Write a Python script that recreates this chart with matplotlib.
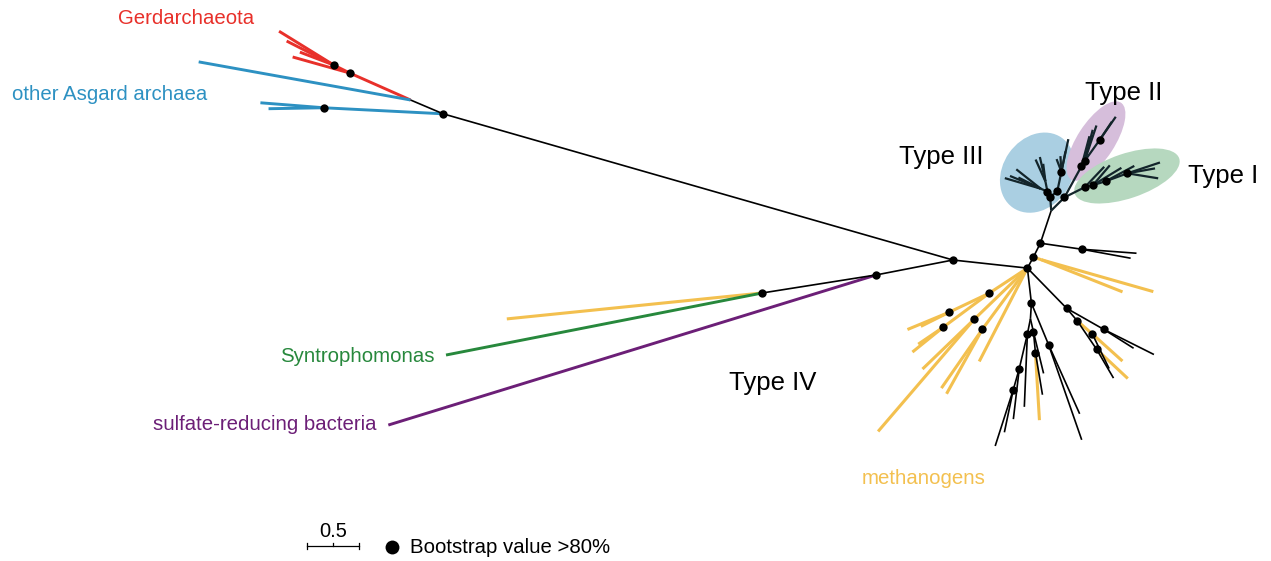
import math
import matplotlib
matplotlib.use("Agg")
import matplotlib.pyplot as plt
from matplotlib.patches import Ellipse

plt.rcParams["font.family"] = ["Liberation Sans", "DejaVu Sans"]

# Branches of the unrooted tree: (parent, child, length, direction in degrees, lineage)
backbone = [
    ("C", "A", 5.10, 164.0, "other"),
    ("A", "G", 0.34, 157.0, "other"),
    ("C", "D", 0.75, 191.0, "other"),
    ("D", "E", 1.11, 189.0, "other"),
    ("C", "M", 0.72, -6.2, "other"),
]
gerdarchaeota = [
    ("G", "R1", 0.64, 156.1, "gerd"),
    ("R1", "r1", 0.57, 164.3, "gerd"),
    ("R1", "R2", 0.17, 153.4, "gerd"),
    ("R2", "r2", 0.62, 148.3, "gerd"),
    ("R2", "r3", 0.51, 153.0, "gerd"),
    ("R2", "r4", 0.35, 159.1, "gerd"),
]
other_asgard = [
    ("G", "s1", 2.07, 169.8, "asgard"),
    ("A", "B1", 1.15, 177.1, "asgard"),
    ("B1", "s2", 0.61, 175.5, "asgard"),
    ("B1", "s3", 0.53, 181.0, "asgard"),
]
bacteria = [
    ("E", "m0", 2.47, 185.8, "methanogen"),
    ("E", "syn", 3.10, 191.1, "syntroph"),
    ("D", "srb", 4.91, 197.1, "srb"),
]
upper_right = [
    ("M", "N1", 0.12, 61.4, "other"),
    ("N1", "N2", 0.15, 63.4, "other"),
    ("N2", "K", 0.40, -8.3, "other"),
    ("K", "k1", 0.53, -4.2, "other"),
    ("K", "k2", 0.48, -10.4, "other"),
    ("N1", "O", 0.08, -18.0, "methanogen"),
    ("O", "o1", 1.12, -15.9, "methanogen"),
    ("O", "o2", 0.84, -21.6, "methanogen"),
    ("N2", "T0", 0.33, 71.6, "other"),
    ("T0", "T3", 0.13, 94.1, "hyd"),
    ("T0", "T12", 0.18, 45.0, "hyd"),
]
type_iii = [
    ("T3", "a", 0.06, 116.6, "hyd"),
    ("a", "a1", 0.07, 156.8, "hyd"),
    ("a1", "t31", 0.36, 163.6, "hyd"),
    ("a1", "t32", 0.32, 157.5, "hyd"),
    ("a1", "t33", 0.30, 141.6, "hyd"),
    ("a1", "t34", 0.24, 153.4, "hyd"),
    ("a", "a2", 0.10, 101.3, "hyd"),
    ("a2", "t35", 0.23, 114.2, "hyd"),
    ("a2", "t36", 0.24, 102.8, "hyd"),
    ("a2", "t37", 0.17, 97.1, "hyd"),
    ("T3", "b", 0.09, 40.6, "hyd"),
    ("b", "c", 0.19, 78.1, "hyd"),
    ("c", "t38", 0.32, 78.0, "hyd"),
    ("c", "t39", 0.20, 78.7, "hyd"),
    ("c", "t310", 0.15, 93.6, "hyd"),
    ("c", "t311", 0.13, 111.0, "hyd"),
]
type_ii = [
    ("T12", "p1", 0.34, 61.3, "hyd"),
    ("p1", "p2", 0.06, 59.0, "hyd"),
    ("p2", "p3", 0.25, 54.5, "hyd"),
    ("p3", "t21", 0.27, 55.2, "hyd"),
    ("p3", "t22", 0.21, 56.3, "hyd"),
    ("p2", "t23", 0.36, 71.6, "hyd"),
    ("p2", "t24", 0.31, 75.5, "hyd"),
    ("p1", "t25", 0.30, 75.1, "hyd"),
]
type_i = [
    ("T12", "g1", 0.22, 26.6, "hyd"),
    ("g1", "g2", 0.08, 14.0, "hyd"),
    ("g2", "g3", 0.13, 17.1, "hyd"),
    ("g3", "g4", 0.22, 20.0, "hyd"),
    ("g4", "t11", 0.33, 18.4, "hyd"),
    ("g4", "t12", 0.27, 10.1, "hyd"),
    ("g4", "t13", 0.30, -9.2, "hyd"),
    ("g3", "t14", 0.31, 28.2, "hyd"),
    ("g2", "t15", 0.32, 31.3, "hyd"),
    ("g2", "t16", 0.25, 49.6, "hyd"),
    ("g1", "t17", 0.27, 46.5, "hyd"),
]
methanogen_fan = [
    ("M", "d1", 0.44, 213.3, "methanogen"),
    ("d1", "d2", 0.43, 205.4, "methanogen"),
    ("d2", "m1", 0.43, 202.5, "methanogen"),
    ("d2", "m2", 0.30, 206.6, "methanogen"),
    ("d1", "d3", 0.55, 216.5, "methanogen"),
    ("d3", "m3", 0.29, 214.2, "methanogen"),
    ("d3", "m4", 0.38, 218.9, "methanogen"),
    ("M", "d4", 0.71, 223.9, "methanogen"),
    ("d4", "m5", 0.69, 223.9, "methanogen"),
    ("d4", "m6", 1.42, 229.4, "methanogen"),
    ("M", "d5", 0.73, 233.6, "methanogen"),
    ("d5", "m7", 0.69, 235.2, "methanogen"),
    ("d5", "m8", 0.71, 241.0, "methanogen"),
    ("M", "m9", 1.01, 242.7, "methanogen"),
]
lower_fan = [
    ("M", "P", 0.34, -83.5, "other"),
    ("P", "R", 0.15, -93.6, "other"),
    ("R", "Q1", 0.15, -101.3, "other"),
    ("Q1", "l1", 0.70, -92.4, "other"),
    ("Q1", "U", 0.34, -103.2, "other"),
    ("U", "l2", 0.49, -96.7, "other"),
    ("U", "V", 0.21, -105.9, "other"),
    ("V", "l3", 0.57, -107.8, "other"),
    ("V", "l4", 0.42, -101.8, "other"),
    ("R", "Q3", 0.13, -77.0, "other"),
    ("Q3", "W", 0.20, -84.6, "other"),
    ("W", "l5", 0.65, -86.6, "methanogen"),
    ("W", "l6", 0.41, -80.5, "other"),
    ("Q3", "l7", 0.41, -76.3, "other"),
    ("P", "Q2", 0.43, -67.5, "other"),
    ("Q2", "l8", 0.73, -65.8, "other"),
    ("Q2", "l9", 0.97, -70.8, "other"),
]
right_fan = [
    ("M", "S1", 0.54, -45.7, "other"),
    ("S1", "S3", 0.41, -29.6, "other"),
    ("S3", "f1", 0.54, -26.6, "other"),
    ("S3", "f2", 0.34, -32.3, "other"),
    ("S1", "S2", 0.16, -49.8, "other"),
    ("S2", "S4", 0.19, -40.9, "methanogen"),
    ("S4", "f3", 0.39, -42.0, "methanogen"),
    ("S4", "f4", 0.37, -64.1, "other"),
    ("S2", "S5", 0.33, -55.8, "other"),
    ("S5", "f5", 0.41, -43.1, "methanogen"),
    ("S5", "f6", 0.32, -59.6, "other"),
]

# Nodes with bootstrap support above 80 %
bootstrap_nodes = [
    "A", "R1", "R2", "B1", "C", "D", "E", "M", "N1", "N2", "K",
    "T3", "a", "b", "c", "T12", "p1", "p2", "p3", "g1", "g2", "g3", "g4",
    "d1", "d2", "d3", "d4", "d5", "P", "Q1", "Q3", "W", "U", "V", "Q2",
    "S1", "S2", "S3", "S4", "S5",
]
scale_length = 0.5

COLORS = {
    "other": "#000000",
    "gerd": "#e8302a",
    "asgard": "#2d91c2",
    "syntroph": "#27883c",
    "srb": "#6c1f77",
    "methanogen": "#f3c04f",
    "hyd": "#13252b",
}
WIDTHS = {
    "other": 1.2, "gerd": 2.1, "asgard": 2.1, "syntroph": 2.1,
    "srb": 2.1, "methanogen": 2.2, "hyd": 1.6,
}

all_branches = (backbone + gerdarchaeota + other_asgard + bacteria + upper_right
                + type_iii + type_ii + type_i + methanogen_fan + lower_fan + right_fan)

# Layout from branch lengths and directions, starting at the central node
pos = {"C": (0.0, 0.0)}
for parent, child, length, angle, _ in all_branches:
    x0, y0 = pos[parent]
    t = math.radians(angle)
    pos[child] = (x0 + length * math.cos(t), y0 + length * math.sin(t))

W, H = 1271, 561
fig = plt.figure(figsize=(W / 100, H / 100), dpi=100)
ax = fig.add_axes([0, 0, 1, 1])
ax.set_xlim(-9.163, 3.058)
ax.set_ylim(-2.894, 2.500)
ax.axis("off")

# Shaded hydrogenase groups
ax.add_patch(Ellipse((0.81, 0.84), 0.82, 0.66, angle=55, color="#aacfe2", zorder=0, lw=0))
ax.add_patch(Ellipse((1.375, 1.144), 0.88, 0.36, angle=57, color="#d6bedb", zorder=0, lw=0))
ax.add_patch(Ellipse((1.673, 0.808), 1.06, 0.43, angle=18.6, color="#b6d8bf", zorder=0, lw=0))

order = {"other": 2, "hyd": 3}
for parent, child, length, angle, group in all_branches:
    (x0, y0), (x1, y1) = pos[parent], pos[child]
    ax.plot([x0, x1], [y0, y1], color=COLORS[group], lw=WIDTHS[group],
            solid_capstyle="butt", zorder=order.get(group, 1))

bx = [pos[n][0] for n in bootstrap_nodes]
by = [pos[n][1] for n in bootstrap_nodes]
ax.plot(bx, by, "o", color="black", ms=6.0, zorder=5, mec="none")

# Scale bar
sx, sy = -6.21, -2.75
ax.plot([sx, sx + scale_length], [sy, sy], color="black", lw=0.9)
for xt in (sx, sx + scale_length):
    ax.plot([xt, xt], [sy - 0.03, sy + 0.03], color="black", lw=0.9)
ax.plot([sx + scale_length / 2] * 2, [sy, sy + 0.025], color="black", lw=0.9)
ax.text(sx + scale_length / 2, sy + 0.05, f"{scale_length}", ha="center", va="bottom",
        fontsize=14.5)

# Bootstrap legend
ax.plot([-5.394], [-2.760], "o", color="black", ms=10, mec="none")
ax.text(-5.22, -2.760, "Bootstrap value >80%", ha="left", va="center", fontsize=14.7)


def fxy(x, y):
    return x / W, 1 - y / H


labels = [
    ("Gerdarchaeota", 118, 18, COLORS["gerd"], 14.7),
    ("other Asgard archaea", 12, 95, COLORS["asgard"], 14.7),
    ("Syntrophomonas", 280, 356, COLORS["syntroph"], 14.7),
    ("sulfate-reducing bacteria", 153, 425, COLORS["srb"], 14.7),
    ("methanogens", 862, 478, COLORS["methanogen"], 14.7),
    ("Type II", 1085, 93, "black", 18.5),
    ("Type III", 899, 157, "black", 18.5),
    ("Type I", 1188, 176, "black", 18.5),
    ("Type IV", 729, 383, "black", 18.5),
]
for text, x, y, color, size in labels:
    fig.text(*fxy(x, y), text, color=color, fontsize=size, ha="left", va="center")

fig.savefig("out.png", dpi=100)
